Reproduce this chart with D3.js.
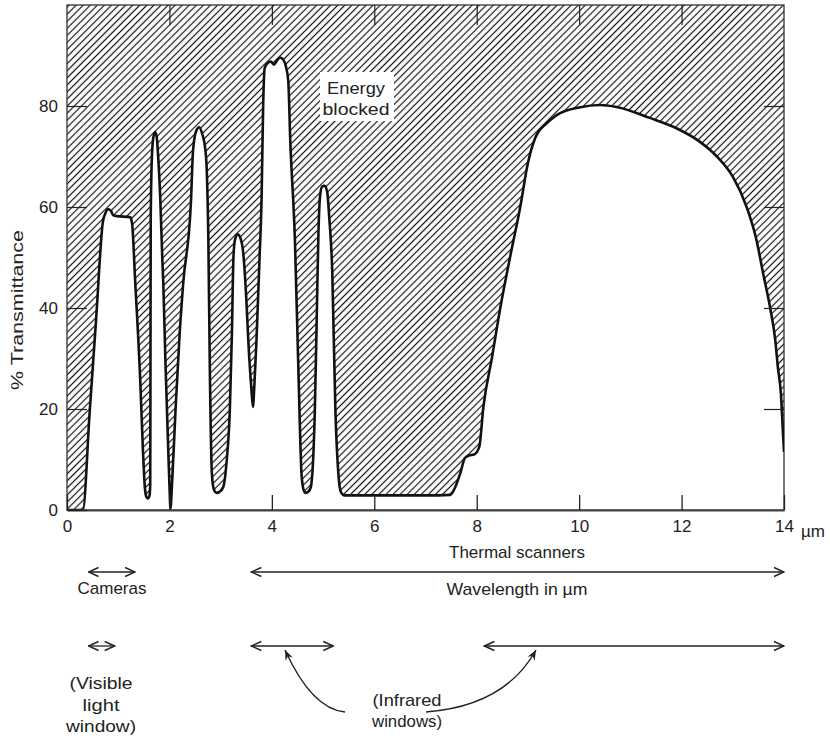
<!DOCTYPE html>
<html>
<head>
<meta charset="utf-8">
<script src="https://cdn.jsdelivr.net/npm/d3@7"></script>
<style>
  body { margin: 0; background: #fff; }
  text { font-family: "Liberation Sans", Arial, Helvetica, sans-serif; fill: #222; }
</style>
</head>
<body>
<svg id="chart" width="830" height="736"></svg>
<script>
// wavelength (µm) and % transmittance
const wavelength = [0, 0.31, 0.44, 0.57, 0.7, 0.76, 0.8, 0.86, 0.9, 0.97, 1.23, 1.27, 1.33, 1.43, 1.48, 1.52, 1.55, 1.58, 1.61,
  1.625, 1.63, 1.635, 1.66, 1.69, 1.72, 1.75, 1.78, 1.82, 1.86, 1.88, 1.92, 1.97, 2.0, 2.02, 2.05, 2.12, 2.2, 2.27,
  2.42, 2.46, 2.52, 2.58, 2.64, 2.7, 2.73, 2.76, 2.79, 2.83, 2.87, 2.92, 2.98, 3.05, 3.12, 3.18, 3.22, 3.25, 3.28, 3.33,
  3.38, 3.44, 3.5, 3.54, 3.6, 3.63, 3.66, 3.7, 3.76, 3.8, 3.83, 3.86, 3.92, 3.98, 4.04, 4.1, 4.16, 4.22, 4.27, 4.32,
  4.36, 4.45, 4.52, 4.58, 4.62, 4.66, 4.71, 4.76, 4.84, 4.88, 4.91, 4.94, 4.98, 5.03, 5.08, 5.12, 5.18, 5.24, 5.3, 5.35,
  5.42, 7.0, 7.48, 7.6, 7.68, 7.77, 7.85, 7.95, 8.05, 8.13, 8.3, 8.46, 8.65, 8.85, 9.0, 9.14, 9.37, 9.56, 10.0, 10.4,
  10.73, 11.39, 11.9, 12.36, 12.69, 13.0, 13.27, 13.45, 13.6, 13.73, 13.83, 13.88, 13.94, 13.98, 14.0];
const transmittance = [0, 0, 19, 38, 57, 59, 59.6, 59.2, 58.4, 58.2, 58, 56.8, 45.5, 25.7, 12.5, 4.5, 2.6, 2.3, 2.8,
  5, 30, 58, 70.5, 74, 74.8, 74, 70, 62, 50, 45, 30, 14, 5, 0.3, 5, 20, 35, 45,
  61, 71, 75, 75.8, 74.5, 71.5, 67, 53.5, 27, 7, 4, 3.4, 3.6, 4.5, 10, 20, 35, 50, 53.5, 54.6,
  54, 51, 42, 33.6, 24, 20.4, 25, 33.6, 50, 62, 80, 87.5, 88.5, 88.8, 88.2, 89, 89.6, 89.2, 88, 85,
  73, 53.5, 27, 7, 4, 3.4, 3.6, 4.5, 20, 40, 55, 62, 64, 64.2, 63, 58, 47, 20, 7, 3.5,
  2.9, 2.9, 3, 5, 7.3, 10.3, 10.8, 11, 12.5, 20.4, 30.3, 40, 50, 60, 68.7, 73.6, 76.6, 78.2, 79.7, 80.2,
  79.8, 77.6, 75.6, 72.9, 70, 66, 60, 54, 46.5, 40, 33.6, 28.3, 23, 15.2, 11.5];

const xTicks = [0, 2, 4, 6, 8, 10, 12, 14];
const yTicks = [0, 20, 40, 60, 80];

// sensor / window ranges in µm
const spanNames = ["Thermal scanners", "Cameras", "Visible", "IR short", "IR long"];
const spanFrom = [3.6, 0.42, 0.42, 3.6, 8.15];
const spanTo = [14.0, 1.33, 0.93, 5.2, 14.0];
const spanRow = [0, 0, 1, 1, 1];

const pLeft = 67, pRight = 784, pTop = 5, pBottom = 510;

const svg = d3.select("#chart");
const x = d3.scaleLinear().domain([0, 14]).range([pLeft, pRight]);
const y = d3.scaleLinear().domain([0, 100]).range([pBottom, pTop]);

const data = wavelength.map((w, i) => ({w: w, t: transmittance[i]}));

const defs = svg.append("defs");
defs.append("pattern")
  .attr("id", "hatch")
  .attr("patternUnits", "userSpaceOnUse")
  .attr("width", 5).attr("height", 10)
  .attr("patternTransform", "rotate(45)")
  .append("line")
  .attr("x1", 2.5).attr("y1", 0).attr("x2", 2.5).attr("y2", 10)
  .attr("stroke", "#111").attr("stroke-width", 1.2);

defs.append("clipPath").attr("id", "plotclip")
  .append("rect").attr("x", pLeft).attr("y", pTop).attr("width", pRight - pLeft).attr("height", pBottom - pTop);

defs.append("marker")
  .attr("id", "chev")
  .attr("viewBox", "-12 -6 13 12")
  .attr("refX", 0).attr("refY", 0)
  .attr("markerWidth", 13).attr("markerHeight", 12)
  .attr("markerUnits", "userSpaceOnUse")
  .attr("orient", "auto-start-reverse")
  .append("path").attr("d", "M-10,-4.5L0,0L-10,4.5")
  .attr("fill", "none").attr("stroke", "#222").attr("stroke-width", 1.4);

defs.append("marker")
  .attr("id", "head")
  .attr("viewBox", "-11 -6 12 12")
  .attr("refX", 0).attr("refY", 0)
  .attr("markerWidth", 12).attr("markerHeight", 12)
  .attr("markerUnits", "userSpaceOnUse")
  .attr("orient", "auto")
  .append("path").attr("d", "M-10,-4L0,0L-10,4L-7,0Z")
  .attr("fill", "#222");

// energy blocked region: from curve up to 100 %
const blocked = d3.area()
  .x(d => x(d.w))
  .y0(y(100))
  .y1(d => y(d.t))
  .curve(d3.curveMonotoneX);

svg.append("path")
  .datum(data)
  .attr("d", blocked)
  .attr("fill", "url(#hatch)")
  .attr("clip-path", "url(#plotclip)");

function label(lines, cx, y0, step, widths) {
  lines.forEach((s, i) => {
    svg.append("text").attr("x", cx).attr("y", y0 + i * step)
      .attr("text-anchor", "middle").attr("font-size", 17)
      .attr("textLength", widths[i]).attr("lengthAdjust", "spacingAndGlyphs")
      .text(s);
  });
}

// label box
svg.append("rect")
  .attr("x", 320).attr("y", 72).attr("width", 74).attr("height", 49)
  .attr("fill", "#fff");
label(["Energy", "blocked"], 356, 94, 21, [58, 67]);

// frame
svg.append("rect")
  .attr("x", pLeft).attr("y", pTop).attr("width", pRight - pLeft).attr("height", pBottom - pTop)
  .attr("fill", "none").attr("stroke", "#333").attr("stroke-width", 1.3);

// transmittance curve
const line = d3.line()
  .x(d => x(d.w))
  .y(d => y(d.t))
  .curve(d3.curveMonotoneX);

svg.append("path")
  .datum(data)
  .attr("d", line)
  .attr("fill", "none")
  .attr("stroke", "#111")
  .attr("stroke-width", 2.6)
  .attr("stroke-linejoin", "round")
  .attr("clip-path", "url(#plotclip)");

// axes
const xAxis = svg.append("g")
  .attr("transform", `translate(0,${pBottom})`)
  .call(d3.axisBottom(x).tickValues(xTicks).tickSizeInner(-15).tickSizeOuter(0).tickPadding(10));
xAxis.select(".domain").attr("stroke", "#444").attr("stroke-width", 2);
xAxis.selectAll(".tick line").attr("stroke", "#222").attr("stroke-width", 1.3);
xAxis.selectAll(".tick text").attr("font-size", 17).attr("fill", "#222")
  .style("font-family", "'Liberation Sans', Arial, sans-serif");
svg.append("text").attr("x", x(14) + 17).attr("y", 537).attr("font-size", 17).text("µm");

const yAxis = svg.append("g")
  .attr("transform", `translate(${pLeft},0)`)
  .call(d3.axisLeft(y).tickValues(yTicks).tickSizeInner(-20).tickSizeOuter(0).tickPadding(9));
yAxis.select(".domain").remove();
yAxis.selectAll(".tick line").attr("stroke", "#222").attr("stroke-width", 1.2);
yAxis.selectAll(".tick text").attr("font-size", 17).attr("fill", "#222")
  .style("font-family", "'Liberation Sans', Arial, sans-serif");

const yRight = svg.append("g")
  .attr("transform", `translate(${pRight},0)`)
  .call(d3.axisRight(y).tickValues(yTicks.slice(1)).tickSizeInner(-20).tickSizeOuter(0).tickFormat(""));
yRight.select(".domain").remove();
yRight.selectAll(".tick line").attr("stroke", "#222").attr("stroke-width", 1.2);

const xTop = svg.append("g")
  .attr("transform", `translate(0,${pTop})`)
  .call(d3.axisTop(x).tickValues(xTicks.slice(1, -1)).tickSizeInner(-20).tickSizeOuter(0).tickFormat(""));
xTop.select(".domain").remove();
xTop.selectAll(".tick line").attr("stroke", "#222").attr("stroke-width", 1.2);

svg.append("text")
  .attr("transform", "translate(23,310) rotate(-90)")
  .attr("text-anchor", "middle").attr("font-size", 17)
  .attr("textLength", 160).attr("lengthAdjust", "spacingAndGlyphs")
  .text("% Transmittance");

// range arrows below the chart
const rowY = [572, 646];
svg.append("g").selectAll("line")
  .data(spanNames.map((n, i) => ({name: n, a: spanFrom[i], b: spanTo[i], row: spanRow[i]})))
  .join("line")
  .attr("x1", d => x(d.a)).attr("x2", d => x(d.b))
  .attr("y1", d => rowY[d.row]).attr("y2", d => rowY[d.row])
  .attr("stroke", "#222").attr("stroke-width", 1.3)
  .attr("marker-start", "url(#chev)")
  .attr("marker-end", "url(#chev)");

label(["Thermal scanners"], 517, 558, 0, [136]);
label(["Wavelength in µm"], 517, 595, 0, [141]);
label(["Cameras"], 112, 594, 0, [69]);
label(["(Visible", "light", "window)"], 101, 689, 21.5, [63, 37, 70]);
label(["(Infrared", "windows)"], 407, 706, 20.5, [69, 70]);

// curved pointers from the infrared label to the two windows
svg.append("path")
  .attr("d", "M345,712 Q312,709 285,650")
  .attr("fill", "none").attr("stroke", "#222").attr("stroke-width", 1.4)
  .attr("marker-end", "url(#head)");
svg.append("path")
  .attr("d", "M426,712 Q505,706 536,650")
  .attr("fill", "none").attr("stroke", "#222").attr("stroke-width", 1.4)
  .attr("marker-end", "url(#head)");
</script>
</body>
</html>
